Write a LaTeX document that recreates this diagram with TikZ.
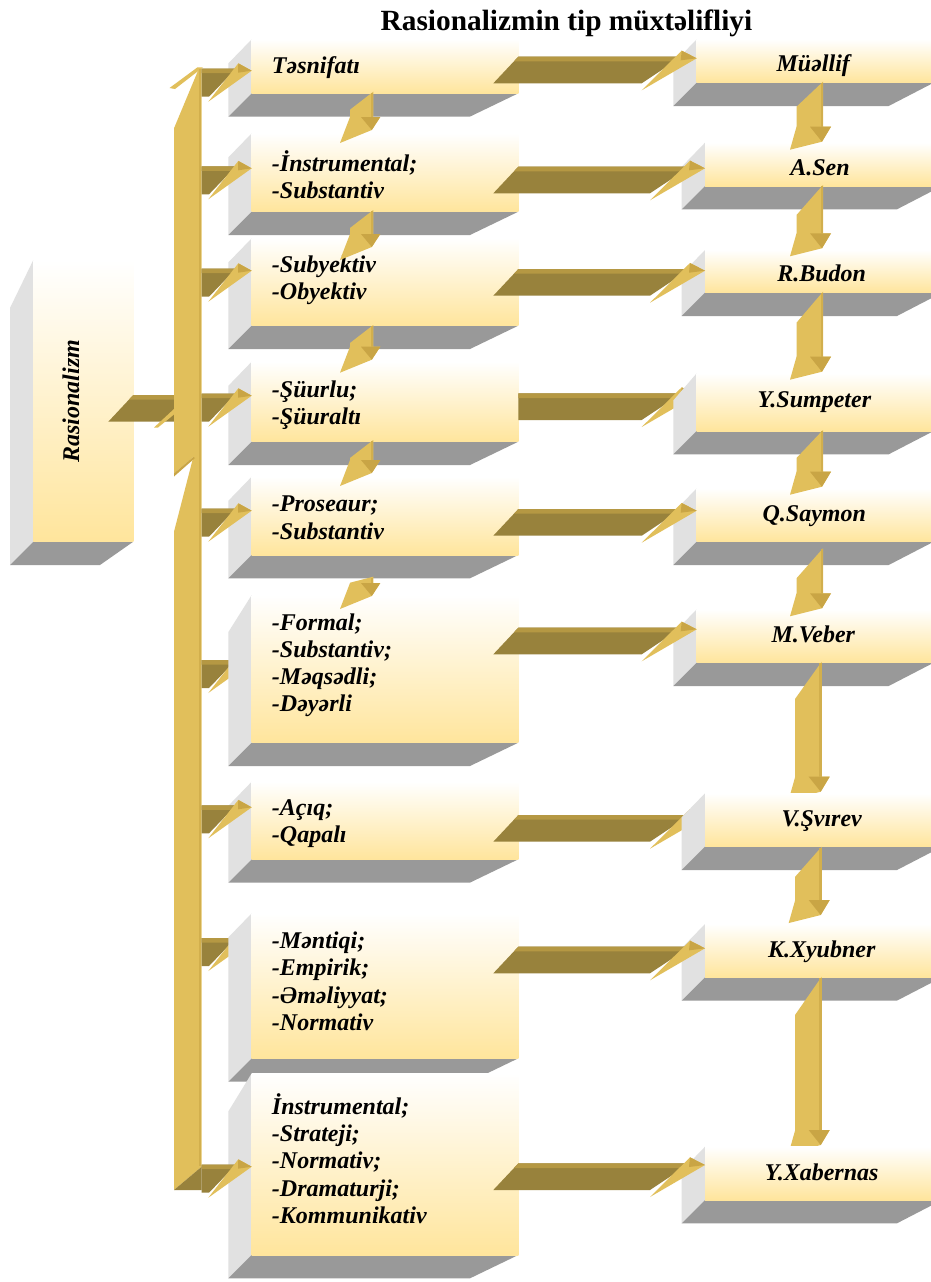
\documentclass[tikz,border=0pt]{standalone}
\usepackage{fontspec}
\setmainfont{Liberation Serif}
\definecolor{gold}{HTML}{E1BF5B}
\definecolor{darkgold}{HTML}{C9A545}
\definecolor{olive}{HTML}{98823C}
\definecolor{olivelt}{HTML}{B59843}
\definecolor{sidegray}{HTML}{E1E1E1}
\definecolor{botgray}{HTML}{999999}
\definecolor{frontyel}{HTML}{FFE59C}
\definecolor{stripe}{HTML}{D2AF4D}
\tikzset{
 lbl/.style={font=\fontsize{18}{20.4}\selectfont\bfseries\itshape, inner sep=0pt, align=left, anchor=west},
 rlbl/.style={font=\fontsize{18}{20.4}\selectfont\bfseries\itshape, inner sep=0pt, anchor=base},
 ttl/.style={font=\fontsize{22}{26}\selectfont\bfseries, inner sep=0pt, anchor=base},
}
% box: xl, xr, ytop, ybot, drop of left face top, offset of bottom-right corner
\newcommand{\cubebox}[6]{%
 \fill[sidegray] (#1,#3) -- ({#1-23.3},{#3+#5}) -- ({#1-23.3},{#4+23.3}) -- (#1,#4) -- cycle;
 \fill[botgray] (#1,#4) -- (#2,#4) -- ({#2-#6},{#4+23.3}) -- ({#1-23.3},{#4+23.3}) -- cycle;
 \shade[top color=white, bottom color=frontyel] (#1,#3) rectangle (#2,#4);
}
% long row arrow: tip x, tip y, lower-left x of shaft
\newcommand{\rowarrow}[3]{%
 \fill[olive] (518.3,{#2-1.6}) -- ({#1-15},{#2-1.6}) -- ({#1-55},{#2+25}) -- (#3,{#2+25}) -- cycle;
 \fill[olivelt] (518.3,{#2-1.6}) -- ({#1-15},{#2-1.6}) -- ({#1-21},{#2+3}) -- ({518.3-(518.3-#3)*0.17},{#2+3}) -- cycle;
 \fill[gold] ({#1-55},{#2+32}) -- ({#1-15},{#2-7.7}) -- (#1,#2) -- cycle;
 \fill[darkgold] ({#1-15},{#2-7.7}) -- (#1,#2) -- ({#1-16},{#2+2}) -- cycle;
}
% branch arrow from trunk: tip y
\newcommand{\brancharrow}[1]{%
 \fill[olive] (201.7,{#1-2}) -- (236,{#1-2}) -- (209,{#1+26}) -- (201.7,{#1+26}) -- cycle;
 \fill[olivelt] (201.7,{#1-2}) -- (236,{#1-2}) -- (231,{#1+2.5}) -- (201.7,{#1+2.5}) -- cycle;
 \fill[gold] (208.3,{#1+31}) -- (238.3,{#1-7.4}) -- (251.7,#1) -- cycle;
 \fill[darkgold] (238.3,{#1-7.4}) -- (251.7,#1) -- (238,{#1+2}) -- cycle;
}
% right column down arrow: rx, ytop, slant, yhead
\newcommand{\rdown}[4]{%
 \fill[gold] (#1,#2) -- (#1,#4) -- ({#1+8},#4) -- ({#1-1},{#4+15}) -- ({#1-33},{#4+23}) -- ({#1-26.5},#4) -- ({#1-26.5},{#2+#3}) -- cycle;
 \fill[darkgold] ({#1-13},#4) -- ({#1+8},#4) -- ({#1-1},{#4+15}) -- cycle;
 \draw[stripe, line width=1.6pt] ({#1-1.2},{#2+1}) -- ({#1-1.2},#4);
}
% left column down arrow: ytop, slant, yhead
\newcommand{\ldown}[3]{%
 \fill[gold] (373.3,#1) -- (373.3,#3) -- (380.3,#3) -- (371.8,{#3+13}) -- (340,{#3+26}) -- (350,#3) -- (350,{#1+#2}) -- cycle;
 \fill[darkgold] (361,#3) -- (380.3,#3) -- (371.8,{#3+13}) -- cycle;
 \draw[stripe, line width=1.4pt] (372.4,{#1+1}) -- (372.4,#3);
}
\begin{document}
\begin{tikzpicture}[x=0.75pt,y=-0.75pt]
\useasboundingbox (0,0) rectangle (931,1282);
\clip (0,0) rectangle (931,1282);
\fill[white] (0,0) rectangle (931,1282);

\node[ttl] (t) at (566.5,30) {Rasionalizmin tip müxtəlifliyi};

% Rasionalizm box
\cubebox{33.3}{133.3}{260}{541.7}{48}{33.3}
\node[rlbl, anchor=center, rotate=90] (rz) at (71,401) {Rasionalizm};
% arrow from Rasionalizm to trunk
\fill[olive] (108.3,421.7) -- (133.3,395) -- (174,395) -- (174,421.7) -- cycle;
\fill[olivelt] (133.3,395) -- (174,395) -- (174,399.5) -- (129,399.5) -- cycle;
\fill[gold] (154,427.5) -- (174,409) -- (174,414.5) -- (158,427.5) -- cycle;

% trunk
\fill[gold] (174,128.3) -- (198.3,70) -- (201.7,68.3) -- (201.7,1166.7) -- (174,1190) -- (174,531.7) -- (193.3,457) -- (174,473.3) -- cycle;
\fill[gold] (169.5,88) -- (197.5,67.3) -- (203,67.3) -- (175,89) -- cycle;
\fill[darkgold] (174,473.3) -- (193.3,457) -- (195,458) -- (174,476.5) -- cycle;
\draw[stripe, line width=2pt] (199.9,69) -- (199.9,1166);
\fill[olive] (174,1190) -- (201.7,1166.7) -- (201.7,1190) -- cycle;

% hidden branch arrows
\brancharrow{662}
\brancharrow{940}

% left boxes
\cubebox{251.7}{518.3}{39.3}{93.3}{24}{48.3}
\node[lbl] (l1) at (271.7,68) {Təsnifatı};
\cubebox{251.7}{518.3}{133.3}{211.7}{24}{48.3}
\node[lbl] (l2) at (271.7,174.5) {-İnstrumental;\\-Substantiv};
\cubebox{251.7}{518.3}{238.3}{325.7}{24}{48.3}
\node[lbl] (l3) at (271.7,280.3) {-Subyektiv\\-Obyektiv};
\cubebox{251.7}{518.3}{361.7}{441.7}{24}{48.3}
\node[lbl] (l4) at (271.7,405.3) {-Şüurlu;\\-Şüuraltı};
\cubebox{251.7}{518.3}{476.7}{555}{24}{48.3}
\node[lbl] (l5) at (271.7,517.8) {-Proseaur;\\-Substantiv};
\cubebox{251.7}{518.3}{595}{742.7}{37}{48.3}
\node[lbl] (l6) at (271.7,665.3) {-Formal;\\-Substantiv;\\-Məqsədli;\\-Dəyərli};
\cubebox{251.7}{518.3}{781.7}{859.3}{24}{48.3}
\node[lbl] (l7) at (271.7,823.7) {-Açıq;\\-Qapalı};
\cubebox{251.7}{518.3}{913.3}{1058.3}{24}{48.3}
\node[lbl] (l8) at (271.7,981.2) {-Məntiqi;\\-Empirik;\\-Əməliyyat;\\-Normativ};
\cubebox{251.7}{518.3}{1073.3}{1255}{38}{48.3}
\node[lbl] (l9) at (271.7,1158.7) {İnstrumental;\\-Strateji;\\-Normativ;\\-Dramaturji;\\-Kommunikativ};

% visible branch arrows
\brancharrow{70.7}
\brancharrow{168.3}
\brancharrow{270.7}
\brancharrow{395.7}
\brancharrow{510.7}
\brancharrow{807.3}
\brancharrow{1166.7}

% row arrows hidden behind right boxes
\rowarrow{696.7}{395}{518.3}
\rowarrow{705}{816.7}{493.3}

% right boxes
\cubebox{696.7}{933.7}{39.3}{82.7}{24}{45}
\node[rlbl] (r1) at (813.3,71) {Müəllif};
\cubebox{705}{942}{142.7}{186}{24}{45}
\node[rlbl] (r2) at (820,175.2) {A.Sen};
\cubebox{705}{942}{250}{292.7}{24}{45}
\node[rlbl] (r3) at (821.7,281.7) {R.Budon};
\cubebox{696.7}{933.7}{373.3}{431}{27}{45}
\node[rlbl] (r4) at (814.3,407) {Y.Sumpeter};
\cubebox{696.7}{933.7}{488.3}{541.7}{24}{45}
\node[rlbl] (r5) at (814.3,521.7) {Q.Saymon};
\cubebox{696.7}{933.7}{609.3}{662.7}{24}{45}
\node[rlbl] (r6) at (813.3,642.7) {M.Veber};
\rdown{821.7}{661.7}{37}{776.7}
\cubebox{705}{942}{793.3}{846.7}{24}{45}
\node[rlbl] (r7) at (821.7,826) {V.Şvırev};
\rdown{821.7}{846.7}{30}{900}
\cubebox{705}{942}{924}{977.3}{24}{45}
\node[rlbl] (r8) at (821.7,957) {K.Xyubner};
\rdown{821.7}{976.7}{38}{1130}
\cubebox{705}{942}{1146.7}{1200}{24}{45}
\node[rlbl] (r9) at (821.7,1180.4) {Y.Xabernas};

% remaining row arrows
\rowarrow{696.7}{58.3}{493.3}
\rowarrow{705}{168.3}{493.3}
\rowarrow{705}{270.7}{493.3}
\rowarrow{696.7}{510.7}{493.3}
\rowarrow{696.7}{629.3}{493.3}
\rowarrow{705}{948.3}{493.3}
\rowarrow{705}{1165}{493.3}

% left column down arrows
\ldown{91.7}{18}{117}
\ldown{210}{18}{234}
\ldown{325}{18}{346.7}
\ldown{440}{18}{460}
\ldown{576.7}{6}{583}

% right column down arrows
\rdown{823}{81.7}{25}{126.7}
\rdown{823}{185}{30}{233.3}
\rdown{823}{291.7}{31}{356.7}
\rdown{823}{430}{28}{471.7}
\rdown{823}{548.3}{30}{593.3}
\end{tikzpicture}
\end{document}
